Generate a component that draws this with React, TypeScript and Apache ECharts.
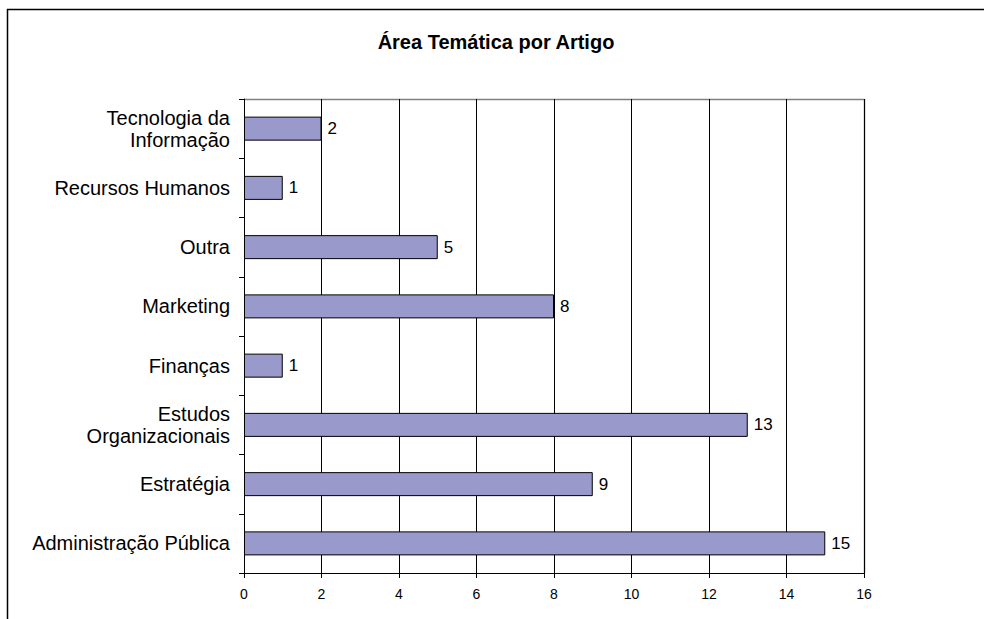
import React, { useEffect, useRef } from "react";
import * as echarts from "echarts";

const categories = [
  "Administração Pública",
  "Estratégia",
  "Estudos\nOrganizacionais",
  "Finanças",
  "Marketing",
  "Outra",
  "Recursos Humanos",
  "Tecnologia da\nInformação",
];
const values = [15, 9, 13, 1, 8, 5, 1, 2];
const title = "Área Temática por Artigo";
const xMin = 0;
const xMax = 16;
const xInterval = 2;

export default function App() {
  const ref = useRef<HTMLDivElement>(null);
  useEffect(() => {
    if (!ref.current) return;
    const chart = echarts.init(ref.current, null, { renderer: "svg" });
    const font = "'Liberation Sans', Arial, sans-serif";
    chart.setOption({
      animation: false,
      backgroundColor: "#ffffff",
      textStyle: { fontFamily: font },
      title: {
        text: title,
        left: 491,
        textAlign: "center",
        top: 27,
        textStyle: { fontFamily: font, fontSize: 20, fontWeight: "bold", color: "#000" },
      },
      graphic: [
        { type: "line", shape: { x1: 7, y1: 9.5, x2: 984, y2: 9.5 }, style: { stroke: "#000", lineWidth: 1.5 } },
        { type: "line", shape: { x1: 7.5, y1: 9, x2: 7.5, y2: 619 }, style: { stroke: "#000", lineWidth: 1.5 } },
        { type: "line", shape: { x1: 244, y1: 99.5, x2: 864.5, y2: 99.5 }, style: { stroke: "#808080", lineWidth: 1.5 } },
        { type: "line", shape: { x1: 864.5, y1: 99, x2: 864.5, y2: 573 }, style: { stroke: "#808080", lineWidth: 1.5 } },
      ],
      grid: { left: 244, right: 120, top: 99, bottom: 46, containLabel: false },
      xAxis: {
        type: "value",
        min: xMin,
        max: xMax,
        interval: xInterval,
        axisLine: { show: true, lineStyle: { color: "#000", width: 1 } },
        axisTick: { show: true, length: 5, lineStyle: { color: "#000" } },
        axisLabel: { color: "#000", fontSize: 14, margin: 14, fontFamily: font },
        splitLine: { show: true, lineStyle: { color: "#000", width: 1 } },
      },
      yAxis: {
        type: "category",
        data: categories,
        axisLine: { show: true, lineStyle: { color: "#000", width: 1 } },
        axisTick: { show: true, length: 5, lineStyle: { color: "#000" } },
        axisLabel: { color: "#000", fontSize: 20, margin: 14, fontFamily: font, align: "right", lineHeight: 22 },
        splitLine: { show: false },
      },
      series: [
        {
          type: "bar",
          data: values,
          barWidth: 24,
          itemStyle: { color: "#9999CC", borderColor: "#000", borderWidth: 1 },
          label: { show: true, position: "right", color: "#000", fontSize: 17, distance: 6, fontFamily: font },
        },
      ],
    });
    return () => chart.dispose();
  }, []);
  return <div ref={ref} style={{ position: "fixed", left: 0, top: 0, width: 984, height: 619 }} />;
}
